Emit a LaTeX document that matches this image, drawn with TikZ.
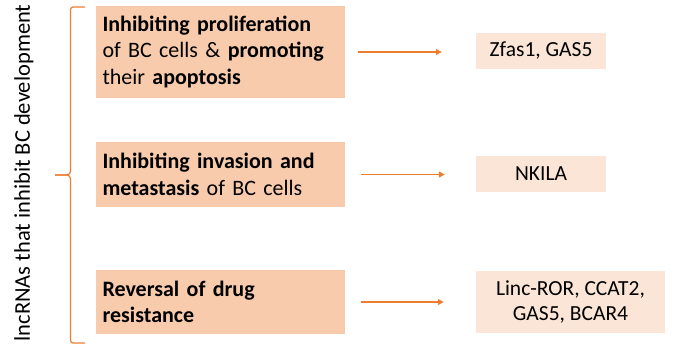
\documentclass[tikz,border=0pt]{standalone}
\usepackage{fontspec}
\setmainfont{Carlito}
\usetikzlibrary{arrows.meta}
\definecolor{boxA}{HTML}{F8CBAD}
\definecolor{boxB}{HTML}{FBE5D6}
\definecolor{acc}{HTML}{ED7D31}
\begin{document}
\begin{tikzpicture}[x=1pt,y=1pt,
  leftbox/.style={fill=boxA, minimum width=249pt, text width=236pt, align=left, inner sep=0pt, font=\fontsize{22}{26.5}\selectfont},
  rightbox/.style={fill=boxB, inner sep=0pt, align=center, font=\fontsize{21.5}{25.5}\selectfont},
  arr/.style={draw=acc, line width=1.6pt, -{Triangle[length=6pt,width=6pt]}}]
\useasboundingbox (0,0) rectangle (675,350);
\node[leftbox, minimum height=92pt] (b1) at (220.5,298) {\textbf{Inhibiting proliferation}\\of BC cells \& \textbf{promoting}\\their \textbf{apoptosis}};
\node[leftbox, minimum height=65pt] (b2) at (220.5,175.5) {\textbf{Inhibiting invasion and}\\\textbf{metastasis} of BC cells};
\node[leftbox, minimum height=64pt] (b3) at (220.5,48) {\textbf{Reversal of drug}\\\textbf{resistance}};
\node[rightbox, minimum width=130pt, minimum height=36pt] (r1) at (541,299) {Zfas1, GAS5};
\node[rightbox, minimum width=130pt, minimum height=36pt] (r2) at (541,176) {NKILA};
\node[rightbox, minimum width=189pt, minimum height=62pt] (r3) at (570.5,48) {Linc-ROR, CCAT2,\\GAS5, BCAR4};
\draw[arr] ([xshift=13pt]b1.east) -- ([xshift=-34pt]b1.east -| r1.west);
\draw[arr] ([xshift=16pt]b2.east) -- ([xshift=-31pt]b2.east -| r2.west);
\draw[arr] ([xshift=16pt]b3.east) -- ([xshift=-32pt]b3.east -| r3.west);
\coordinate (bt) at (85,343);
\coordinate (bb) at (85,7);
\coordinate (tip) at (55,175);
\draw[acc, line width=1.2pt] (bt) -- (73,343) to[out=180,in=90] (70.5,340) -- (70.5,179) to[out=-90,in=0] (67,175) -- (tip);
\draw[acc, line width=1.2pt] (tip) -- (67,175) to[out=0,in=90] (70.5,171) -- (70.5,10) to[out=-90,in=180] (73,7) -- (bb);
\node[rotate=90, font=\fontsize{22.5}{26}\selectfont] (lab) at (24,177) {lncRNAs that inhibit BC development};
\end{tikzpicture}
\end{document}
